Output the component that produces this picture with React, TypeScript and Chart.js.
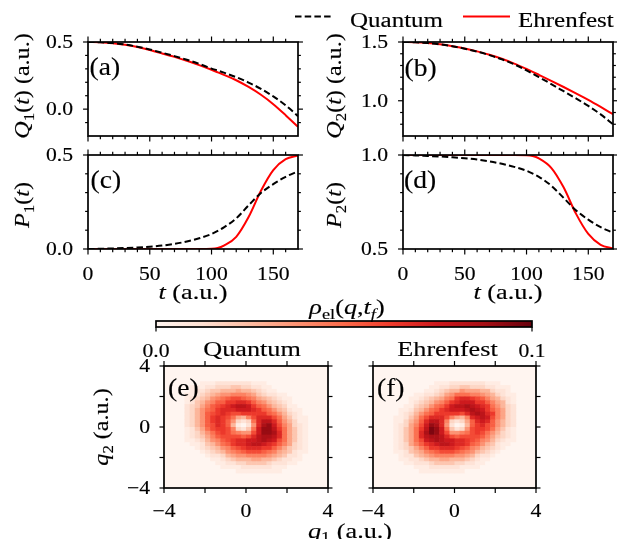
import React, { useEffect, useRef } from 'react';
import { Chart, registerables } from 'chart.js';

Chart.register(...registerables);

const FIG_W = 617;
const FIG_H = 539;
const SERIF = '"Liberation Serif", "Times New Roman", serif';

// ---------- panels (a)-(d): time series ----------
const TIME = [0, 10, 20, 30, 40, 50, 60, 70, 80, 90, 100, 105, 110, 120, 130, 140, 150, 160, 170];
const Q1_QUANTUM = [0.5, 0.498, 0.492, 0.481, 0.465, 0.444, 0.42, 0.395, 0.368, 0.337, 0.302, 0.288, 0.272, 0.238, 0.198, 0.151, 0.095, 0.028, -0.052];
const Q1_EHRENFEST = [0.5, 0.498, 0.491, 0.479, 0.462, 0.44, 0.415, 0.389, 0.36, 0.328, 0.293, 0.274, 0.255, 0.215, 0.165, 0.107, 0.037, -0.045, -0.132];
const Q2_QUANTUM = [1.5, 1.498, 1.491, 1.48, 1.464, 1.443, 1.418, 1.388, 1.353, 1.31, 1.259, 1.231, 1.202, 1.142, 1.081, 1.02, 0.956, 0.884, 0.8];
const Q2_EHRENFEST = [1.5, 1.498, 1.491, 1.48, 1.464, 1.444, 1.42, 1.391, 1.357, 1.316, 1.27, 1.246, 1.221, 1.17, 1.117, 1.063, 1.007, 0.947, 0.885];
const P1_QUANTUM = [0, 0.001, 0.003, 0.005, 0.008, 0.012, 0.018, 0.027, 0.04, 0.057, 0.08, 0.096, 0.115, 0.163, 0.232, 0.298, 0.345, 0.384, 0.413];
const P1_EHRENFEST = [0, 0, 0, 0, 0, 0, 0, 0, 0, 0, 0.001, 0.005, 0.018, 0.065, 0.17, 0.31, 0.42, 0.478, 0.497];
const P2_QUANTUM = [1, 0.998, 0.995, 0.992, 0.988, 0.983, 0.976, 0.966, 0.953, 0.937, 0.916, 0.901, 0.884, 0.837, 0.772, 0.706, 0.656, 0.616, 0.587];
const P2_EHRENFEST = [1, 1, 1, 1, 1, 1, 1, 1, 1, 1, 0.999, 0.995, 0.982, 0.932, 0.828, 0.688, 0.58, 0.522, 0.503];

const T_RANGE = [0, 170];
const T_MAJOR = [0, 50, 100, 150];
const T_MINOR = [10, 20, 30, 40, 60, 70, 80, 90, 110, 120, 130, 140, 160];
const Q1_RANGE = [-0.2, 0.5];
const Q1_MAJOR = [0, 0.5];
const Q1_MINOR = [-0.1, 0.1, 0.2, 0.3, 0.4];
const Q2_RANGE = [0.7, 1.5];
const Q2_MAJOR = [1.0, 1.5];
const Q2_MINOR = [0.8, 0.9, 1.1, 1.2, 1.3, 1.4];
const P1_RANGE = [0, 0.5];
const P1_MAJOR = [0, 0.5];
const P1_MINOR = [0.1, 0.2, 0.3, 0.4];
const P2_RANGE = [0.5, 1.0];
const P2_MAJOR = [0.5, 1.0];
const P2_MINOR = [0.6, 0.7, 0.8, 0.9];

// ---------- panels (e)-(f): electronic density on a grid ----------
const Q_RANGE = [-4, 4];
const Q_TICKS = [-4, -2, 0, 2, 4];
const Q_LABELED = [-4, 0, 4];
const CELL = 0.25;
const Q_COLS = [-2.875, -2.625, -2.375, -2.125, -1.875, -1.625, -1.375, -1.125, -0.875, -0.625, -0.375, -0.125, 0.125, 0.375, 0.625, 0.875, 1.125, 1.375, 1.625, 1.875, 2.125, 2.375, 2.625, 2.875];
const Q_ROWS = [2.875, 2.625, 2.375, 2.125, 1.875, 1.625, 1.375, 1.125, 0.875, 0.625, 0.375, 0.125, -0.125, -0.375, -0.625, -0.875, -1.125, -1.375, -1.625, -1.875, -2.125, -2.375, -2.625, -2.875];
const RHO_MIN = 0;
const RHO_MAX = 0.1;
const RHO_STEP = 0.0053; // one character level (base-36 digit)
const RHO_QUANTUM = [
  '000111222222211100000000',
  '011122333443322110000000',
  '012234455565543211000000',
  '112345677888764322110000',
  '12345789ABBA986543211000',
  '124578AACCDDCA8754321000',
  '23468ABCDEFFECA975431100',
  '23579ACDDDEEEDCA97542110',
  '2357ABCDCBBCCCCCA9753210',
  '2357ACDCB9658BDDDB964211',
  '2357ACDCA73239DFFDA75311',
  '2357ABDCA51027DGHEB86321',
  '12469BCCB83249EHHFC96421',
  '123579BCB9877BEHHGD96421',
  '123468ABBBBABDFGGFD96421',
  '1123578ABCDDEEFGFEB96421',
  '01124579ACDDEFFEDCA86321',
  '001234578ABCDDDCCA864321',
  '00012345789ABBBA98654211',
  '000012235677888876542210',
  '000001123455566554322110',
  '000000112233444432221100',
  '000000011112222221110000',
  '000000000011111111100000',
];
const RHO_EHRENFEST = [
  '000000001112222222111000',
  '000000011223344333221110',
  '000000112345576665532210',
  '000011223467999887653211',
  '000112345689CDDCBA865321',
  '0001234578ACDEEECCA86521',
  '001134579ACEFFGFEDC97532',
  '01124579ACDEEEFGFECA8632',
  '0123579ACCCCCBDFGFDC8632',
  '112469BDDDB8658DEFEB8632',
  '11357ADFFD83236ADEDA7532',
  '12368BEHGD72015ACDBA7532',
  '12469CFIHE94237BCCB96421',
  '12469DGIHEB7789BCB975321',
  '12469DFGGFDBABBBBA864321',
  '12469BEFGFEEDDCBA8753211',
  '12368ACDEFFEDDCA97542110',
  '123468ACCDDDCBA875432100',
  '11245689ABBBA98754321000',
  '012245678888776532210000',
  '011223455665554321100000',
  '001122234444332211000000',
  '000011122222211110000000',
  '000001111111110000000000',
];
const CBAR_TICKS = [0, 0.1];

// ---------- styling ----------
const REDS = ['#fff5f0', '#fee0d2', '#fcbba1', '#fc9272', '#fb6a4a', '#ef3b2c', '#cb181d', '#a50f15', '#67000d'];
const SIZE = { tick: 18.5, label: 21.5, legend: 20, panel: 26 };
const STRETCH = { tick: 1.17, label: 1.22, legend: 1.25, panel: 1.06, rot: 1.12 };
const TEXT_STROKE = 0.15;

function hexRgb(h: string) {
  return [parseInt(h.slice(1, 3), 16), parseInt(h.slice(3, 5), 16), parseInt(h.slice(5, 7), 16)];
}
function reds(t: number) {
  const c = Math.max(0, Math.min(1, t)) * (REDS.length - 1);
  const i = Math.min(Math.floor(c), REDS.length - 2);
  const f = c - i;
  const a = hexRgb(REDS[i]);
  const b = hexRgb(REDS[i + 1]);
  const m = a.map((v, k) => Math.round(v + (b[k] - v) * f));
  return `rgb(${m[0]},${m[1]},${m[2]})`;
}

type Seg = { t: string; it?: boolean; sub?: boolean };
type TextItem = { segs: Seg[]; x: number; y: number; size: number; align?: 'left' | 'center' | 'right'; rot?: boolean; sx?: number };

function drawRich(ctx: CanvasRenderingContext2D, item: TextItem) {
  const { segs, x, y, size, align = 'center', rot = false, sx = 1 } = item;
  const fontOf = (g: Seg) => `${g.it ? 'italic ' : ''}${g.sub ? size * 0.7 : size}px ${SERIF}`;
  const widths = segs.map((g) => {
    ctx.font = fontOf(g);
    return ctx.measureText(g.t).width;
  });
  const total = widths.reduce((a, b) => a + b, 0);
  ctx.save();
  ctx.translate(x, y);
  if (rot) ctx.rotate(-Math.PI / 2);
  ctx.scale(sx, 1);
  let cx = align === 'center' ? -total / 2 : align === 'right' ? -total : 0;
  ctx.textAlign = 'left';
  ctx.textBaseline = 'alphabetic';
  ctx.fillStyle = '#000';
  ctx.strokeStyle = '#000';
  ctx.lineWidth = TEXT_STROKE;
  segs.forEach((g, i) => {
    ctx.font = fontOf(g);
    const dy = g.sub ? size * 0.22 : 0;
    ctx.fillText(g.t, cx, dy);
    ctx.strokeText(g.t, cx, dy);
    cx += widths[i];
  });
  ctx.restore();
}

const plain = (t: string): Seg[] => [{ t }];
const LBL_Q1: Seg[] = [{ t: 'Q', it: true }, { t: '1', sub: true }, { t: '(' }, { t: 't', it: true }, { t: ')' }, { t: ' (a.u.)' }];
const LBL_Q2: Seg[] = [{ t: 'Q', it: true }, { t: '2', sub: true }, { t: '(' }, { t: 't', it: true }, { t: ')' }, { t: ' (a.u.)' }];
const LBL_P1: Seg[] = [{ t: 'P', it: true }, { t: '1', sub: true }, { t: '(' }, { t: 't', it: true }, { t: ')' }];
const LBL_P2: Seg[] = [{ t: 'P', it: true }, { t: '2', sub: true }, { t: '(' }, { t: 't', it: true }, { t: ')' }];
const LBL_T: Seg[] = [{ t: 't', it: true }, { t: ' (a.u.)' }];
const LBL_QX: Seg[] = [{ t: 'q', it: true }, { t: '1', sub: true }, { t: ' (a.u.)' }];
const LBL_QY: Seg[] = [{ t: 'q', it: true }, { t: '2', sub: true }, { t: ' (a.u.)' }];
const LBL_RHO: Seg[] = [{ t: 'ρ', it: true }, { t: 'el', sub: true }, { t: '(' }, { t: 'q', it: true }, { t: ',' }, { t: 't', it: true }, { t: 'f', it: true, sub: true }, { t: ')' }];

type Area = { left: number; top: number; right: number; bottom: number };
const padFor = (a: Area) => ({ left: a.left, top: a.top, right: FIG_W - a.right, bottom: FIG_H - a.bottom });

type Deco = {
  xMajor?: number[]; xMinor?: number[]; yMajor?: number[]; yMinor?: number[];
  sides?: string[];
  xLabels?: { v: number; s: string }[]; xLabelDy?: number;
  yLabels?: { v: number; s: string }[]; yLabelDx?: number;
  texts?: TextItem[];
  legend?: { ds: number; x0: number; x1: number; tx: number }[]; legendY?: number; legendBase?: number;
  heat?: boolean;
  majLen?: number; minLen?: number;
};

function decoPlugin(id: string, d: Deco) {
  return {
    id,
    beforeDatasetsDraw(chart: any) {
      if (!d.heat) return;
      const { ctx, chartArea: a, scales } = chart;
      const xs = scales.x;
      const ys = scales.y;
      ctx.save();
      ctx.beginPath();
      ctx.rect(a.left, a.top, a.right - a.left, a.bottom - a.top);
      ctx.clip();
      ctx.fillStyle = reds(0);
      ctx.fillRect(a.left, a.top, a.right - a.left, a.bottom - a.top);
      for (const p of chart.data.datasets[0].data as any[]) {
        const x0 = xs.getPixelForValue(p.x - CELL / 2);
        const x1 = xs.getPixelForValue(p.x + CELL / 2);
        const y0 = ys.getPixelForValue(p.y + CELL / 2);
        const y1 = ys.getPixelForValue(p.y - CELL / 2);
        ctx.fillStyle = reds((p.v - RHO_MIN) / (RHO_MAX - RHO_MIN));
        ctx.fillRect(x0, y0, x1 - x0 + 0.6, y1 - y0 + 0.6);
      }
      ctx.restore();
    },
    afterDatasetsDraw(chart: any) {
      const { ctx, chartArea: a, scales } = chart;
      const xs = scales.x;
      const ys = scales.y;
      const sides = d.sides || ['top', 'bottom', 'left', 'right'];
      const maj = d.majLen ?? 5.5;
      const min = d.minLen ?? 3.2;
      ctx.save();
      ctx.strokeStyle = '#000';
      ctx.lineWidth = 1.2;
      const seg = (x0: number, y0: number, x1: number, y1: number) => {
        ctx.beginPath();
        ctx.moveTo(x0, y0);
        ctx.lineTo(x1, y1);
        ctx.stroke();
      };
      const xt = (vals: number[] | undefined, len: number) =>
        (vals || []).forEach((v) => {
          const px = xs.getPixelForValue(v);
          if (sides.includes('bottom')) seg(px, a.bottom, px, a.bottom + len);
          if (sides.includes('top')) seg(px, a.top, px, a.top - len);
        });
      const yt = (vals: number[] | undefined, len: number) =>
        (vals || []).forEach((v) => {
          const py = ys.getPixelForValue(v);
          if (sides.includes('left')) seg(a.left, py, a.left - len, py);
          if (sides.includes('right')) seg(a.right, py, a.right + len, py);
        });
      xt(d.xMajor, maj);
      xt(d.xMinor, min);
      yt(d.yMajor, maj * 0.9);
      yt(d.yMinor, min * 0.9);
      ctx.lineWidth = 1.7;
      ctx.strokeRect(a.left, a.top, a.right - a.left, a.bottom - a.top);
      (d.xLabels || []).forEach((l) =>
        drawRich(ctx, { segs: plain(l.s), x: xs.getPixelForValue(l.v), y: a.bottom + (d.xLabelDy ?? 31), size: SIZE.tick, align: 'center', sx: STRETCH.tick })
      );
      (d.yLabels || []).forEach((l) =>
        drawRich(ctx, { segs: plain(l.s), x: a.left - (d.yLabelDx ?? 15), y: ys.getPixelForValue(l.v) + SIZE.tick * 0.34, size: SIZE.tick, align: 'right', sx: STRETCH.tick })
      );
      (d.legend || []).forEach((it) => {
        const ds = chart.data.datasets[it.ds];
        ctx.save();
        ctx.strokeStyle = ds.borderColor;
        ctx.lineWidth = ds.borderWidth;
        ctx.setLineDash(ds.borderDash || []);
        seg(it.x0, d.legendY ?? 16.5, it.x1, d.legendY ?? 16.5);
        ctx.restore();
        drawRich(ctx, { segs: plain(ds.label), x: it.tx, y: d.legendBase ?? 26.5, size: SIZE.legend, align: 'left', sx: STRETCH.legend });
      });
      (d.texts || []).forEach((t) => drawRich(ctx, t));
      ctx.restore();
    },
  };
}

const fmt1 = (v: number) => v.toFixed(1);
const fmtInt = (v: number) => (v < 0 ? '\u2212' + Math.abs(v) : String(v));

function lineConfig(id: string, area: Area, yRange: number[], quantum: number[], ehrenfest: number[], deco: Deco) {
  return {
    type: 'line',
    data: {
      datasets: [
        {
          label: 'Quantum',
          data: TIME.map((t, i) => ({ x: t, y: quantum[i] })),
          borderColor: '#000000',
          borderDash: [6.5, 3.2],
          borderWidth: 2,
          pointRadius: 0,
          cubicInterpolationMode: 'monotone',
          fill: false,
        },
        {
          label: 'Ehrenfest',
          data: TIME.map((t, i) => ({ x: t, y: ehrenfest[i] })),
          borderColor: '#ff0000',
          borderWidth: 2,
          pointRadius: 0,
          cubicInterpolationMode: 'monotone',
          fill: false,
        },
      ],
    },
    options: {
      animation: false,
      responsive: false,
      events: [],
      layout: { padding: padFor(area) },
      scales: {
        x: { type: 'linear', display: false, min: T_RANGE[0], max: T_RANGE[1] },
        y: { type: 'linear', display: false, min: yRange[0], max: yRange[1] },
      },
      plugins: { legend: { display: false }, tooltip: { enabled: false } },
    },
    plugins: [decoPlugin(id, deco)],
  };
}

function heatConfig(id: string, area: Area, rows: string[], deco: Deco) {
  const cells = rows.flatMap((row, i) =>
    row.split('').map((ch, j) => ({ x: Q_COLS[j], y: Q_ROWS[i], v: parseInt(ch, 36) * RHO_STEP }))
  );
  return {
    type: 'scatter',
    data: { datasets: [{ data: cells, pointRadius: 0, pointHoverRadius: 0 }] },
    options: {
      animation: false,
      responsive: false,
      events: [],
      layout: { padding: padFor(area) },
      scales: {
        x: { type: 'linear', display: false, min: Q_RANGE[0], max: Q_RANGE[1] },
        y: { type: 'linear', display: false, min: Q_RANGE[0], max: Q_RANGE[1] },
      },
      plugins: { legend: { display: false }, tooltip: { enabled: false } },
    },
    plugins: [decoPlugin(id, { ...deco, heat: true })],
  };
}

function colorbarConfig(area: Area) {
  return {
    type: 'bar',
    data: {
      labels: [''],
      datasets: [
        {
          data: [RHO_MAX],
          borderWidth: 0,
          barPercentage: 1,
          categoryPercentage: 1,
          backgroundColor: (c: any) => {
            const a = c.chart.chartArea;
            if (!a) return REDS[4];
            const g = c.chart.ctx.createLinearGradient(a.left, 0, a.right, 0);
            REDS.forEach((col, i) => g.addColorStop(i / (REDS.length - 1), col));
            return g;
          },
        },
      ],
    },
    options: {
      indexAxis: 'y',
      animation: false,
      responsive: false,
      events: [],
      layout: { padding: padFor(area) },
      scales: {
        x: { type: 'linear', display: false, min: RHO_MIN, max: RHO_MAX },
        y: { display: false },
      },
      plugins: { legend: { display: false }, tooltip: { enabled: false } },
    },
    plugins: [
      decoPlugin('cbar', {
        sides: ['bottom'],
        xMajor: CBAR_TICKS,
        majLen: 4.5,
        xLabels: CBAR_TICKS.map((v) => ({ v, s: fmt1(v) })),
        xLabelDy: 29.5,
        texts: [{ segs: LBL_RHO, x: 347, y: 314, size: SIZE.label, align: 'center', sx: STRETCH.label }],
      }),
    ],
  };
}

const AREA_A = { left: 88, right: 298, top: 42, bottom: 136 };
const AREA_B = { left: 403, right: 613, top: 42, bottom: 136 };
const AREA_C = { left: 88, right: 298, top: 155, bottom: 249 };
const AREA_D = { left: 403, right: 613, top: 155, bottom: 249 };
const AREA_E = { left: 164, right: 328, top: 366, bottom: 488 };
const AREA_F = { left: 373, right: 536, top: 366, bottom: 488 };
const AREA_CBAR = { left: 156, right: 532, top: 321, bottom: 327 };

const panel = (s: string, x: number, y: number): TextItem => ({ segs: plain(s), x, y, size: SIZE.panel, align: 'left', sx: STRETCH.panel });
const rotTitle = (segs: Seg[], x: number, y: number): TextItem => ({ segs, x, y, size: SIZE.label, align: 'center', rot: true, sx: STRETCH.rot });
const hTitle = (segs: Seg[], x: number, y: number): TextItem => ({ segs, x, y, size: SIZE.label, align: 'center', sx: STRETCH.label });

function buildConfigs(): any[] {
  return [
    lineConfig('pa', AREA_A, Q1_RANGE, Q1_QUANTUM, Q1_EHRENFEST, {
      xMajor: T_MAJOR, xMinor: T_MINOR, yMajor: Q1_MAJOR, yMinor: Q1_MINOR,
      yLabels: Q1_MAJOR.map((v) => ({ v, s: fmt1(v) })),
      texts: [rotTitle(LBL_Q1, 29, 86), panel('(a)', 89.5, 75)],
    }),
    lineConfig('pb', AREA_B, Q2_RANGE, Q2_QUANTUM, Q2_EHRENFEST, {
      xMajor: T_MAJOR, xMinor: T_MINOR, yMajor: Q2_MAJOR, yMinor: Q2_MINOR,
      yLabels: Q2_MAJOR.map((v) => ({ v, s: fmt1(v) })),
      texts: [rotTitle(LBL_Q2, 341, 86), panel('(b)', 404.5, 75.5)],
      legend: [
        { ds: 0, x0: 295, x1: 333, tx: 350 },
        { ds: 1, x0: 463, x1: 510, tx: 518 },
      ],
    }),
    lineConfig('pc', AREA_C, P1_RANGE, P1_QUANTUM, P1_EHRENFEST, {
      xMajor: T_MAJOR, xMinor: T_MINOR, yMajor: P1_MAJOR, yMinor: P1_MINOR,
      yLabels: P1_MAJOR.map((v) => ({ v, s: fmt1(v) })),
      xLabels: T_MAJOR.map((v) => ({ v, s: String(v) })),
      texts: [rotTitle(LBL_P1, 29, 205), panel('(c)', 90.5, 188), hTitle(LBL_T, 193, 298.5)],
    }),
    lineConfig('pd', AREA_D, P2_RANGE, P2_QUANTUM, P2_EHRENFEST, {
      xMajor: T_MAJOR, xMinor: T_MINOR, yMajor: P2_MAJOR, yMinor: P2_MINOR,
      yLabels: P2_MAJOR.map((v) => ({ v, s: fmt1(v) })),
      xLabels: T_MAJOR.map((v) => ({ v, s: String(v) })),
      texts: [rotTitle(LBL_P2, 341, 205), panel('(d)', 404, 188), hTitle(LBL_T, 508, 298.5)],
    }),
    colorbarConfig(AREA_CBAR),
    heatConfig('pe', AREA_E, RHO_QUANTUM, {
      xMajor: Q_TICKS, yMajor: Q_TICKS, majLen: 5,
      xLabels: Q_LABELED.map((v) => ({ v, s: fmtInt(v) })), xLabelDy: 29,
      yLabels: Q_LABELED.map((v) => ({ v, s: fmtInt(v) })), yLabelDx: 14,
      texts: [panel('(e)', 168, 396), hTitle(plain('Quantum'), 252, 356), rotTitle(LBL_QY, 108, 427)],
    }),
    heatConfig('pf', AREA_F, RHO_EHRENFEST, {
      xMajor: Q_TICKS, yMajor: Q_TICKS, majLen: 5,
      xLabels: Q_LABELED.map((v) => ({ v, s: fmtInt(v) })), xLabelDy: 29,
      texts: [panel('(f)', 377, 396), hTitle(plain('Ehrenfest'), 447.5, 356), hTitle(LBL_QX, 350, 537.5)],
    }),
  ];
}

export default function App() {
  const canvases = useRef<(HTMLCanvasElement | null)[]>([]);
  const count = 7;
  useEffect(() => {
    const configs = buildConfigs();
    const charts = configs.map((cfg, i) => new Chart(canvases.current[i] as HTMLCanvasElement, cfg));
    return () => charts.forEach((c) => c.destroy());
  }, []);
  return (
    <div style={{ position: 'fixed', left: 0, top: 0, width: FIG_W, height: FIG_H, background: '#ffffff', overflow: 'hidden' }}>
      {Array.from({ length: count }).map((_, i) => (
        <canvas
          key={i}
          ref={(el) => {
            canvases.current[i] = el;
          }}
          width={FIG_W}
          height={FIG_H}
          style={{ position: 'absolute', left: 0, top: 0, width: FIG_W, height: FIG_H }}
        />
      ))}
    </div>
  );
}
